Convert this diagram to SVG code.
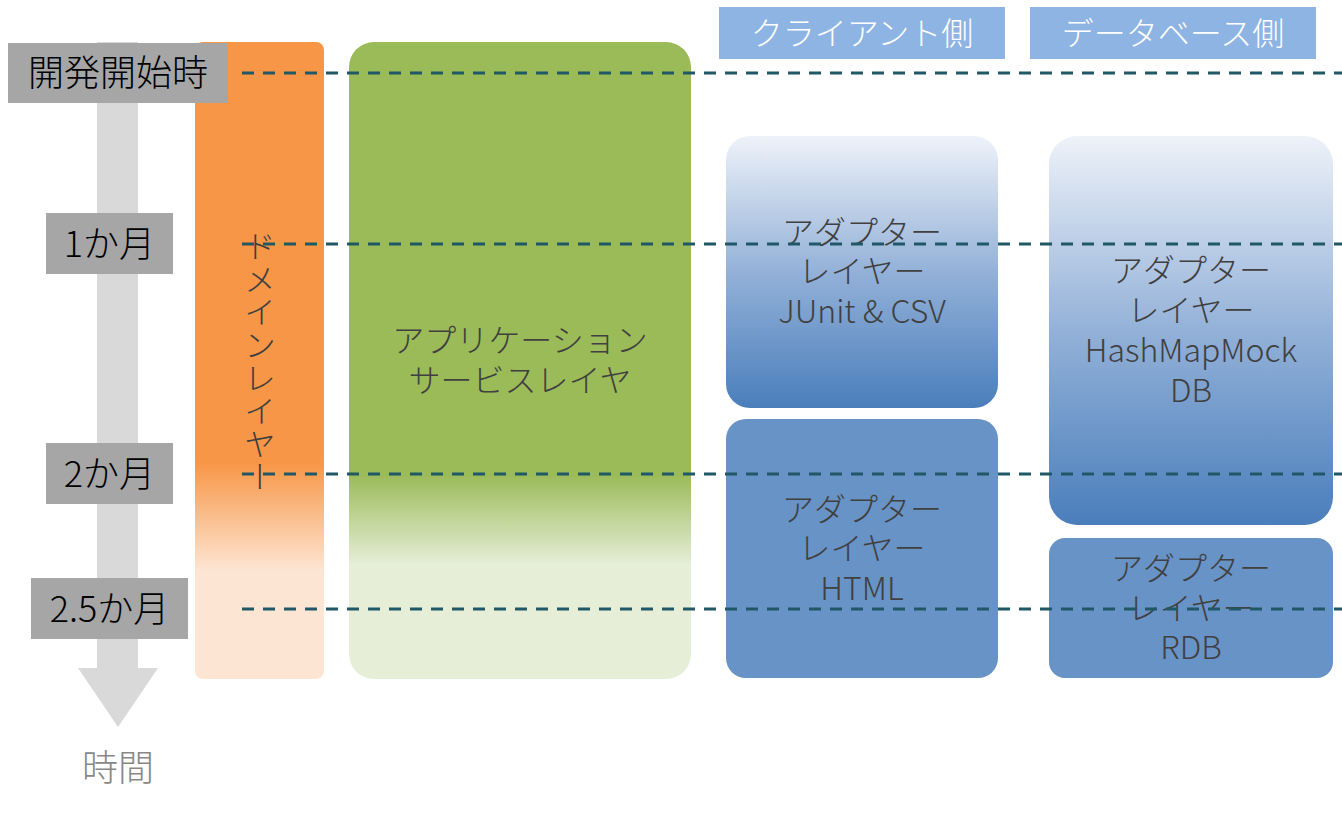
<svg xmlns="http://www.w3.org/2000/svg" width="1342" height="815" viewBox="0 0 1342 815">
<defs>
<linearGradient id="gOrange" x1="0" y1="0" x2="0" y2="1">
<stop offset="0" stop-color="#F79646"/><stop offset="0.66" stop-color="#F79646"/><stop offset="0.83" stop-color="#FDE5D3"/><stop offset="1" stop-color="#FDE5D3"/>
</linearGradient>
<linearGradient id="gGreen" x1="0" y1="0" x2="0" y2="1">
<stop offset="0" stop-color="#9BBB59"/><stop offset="0.68" stop-color="#9BBB59"/><stop offset="0.82" stop-color="#E6EED8"/><stop offset="1" stop-color="#E6EED8"/>
</linearGradient>
<linearGradient id="gBlue" x1="0" y1="0" x2="0" y2="1">
<stop offset="0" stop-color="#EEF2F9"/><stop offset="0.5" stop-color="#93B1D8"/><stop offset="1" stop-color="#4A7EBB"/>
</linearGradient>
<style>
text{font-family:"Noto Sans CJK JP","Noto Sans",sans-serif;font-weight:300;}
.lbl{fill:#A6A6A6;}
.lt{font-size:36px;fill:#000;text-anchor:middle;}
.hdr{fill:#8EB4E3;}
.ht{font-size:32px;fill:#fff;text-anchor:middle;}
.bt{font-size:32px;fill:#404040;text-anchor:middle;}
.flat{fill:#6893C6;}
.guide{stroke:#215867;stroke-width:3;stroke-dasharray:12 9;fill:none;}
</style>
</defs>
<rect width="1342" height="815" fill="#fff"/>
<g id="timeline">
<path d="M97 42 H138 V668 H158 L118 727 L78 668 H97 Z" fill="#D9D9D9"/>
<text x="118" y="781" style="font-size:36px;fill:#888;text-anchor:middle;">時間</text>
</g>
<g id="domain">
<rect x="195" y="42" width="129" height="637" rx="8" fill="url(#gOrange)"/>
<text x="260" y="230" style="font-size:32px;fill:#404040;writing-mode:vertical-rl;letter-spacing:1px;">ドメインレイヤー</text>
</g>
<g id="label-start"><rect class="lbl" x="8" y="43" width="220" height="60"/><text class="lt" x="118" y="86">開発開始時</text></g>
<g id="label-1m"><rect class="lbl" x="46" y="213" width="127" height="61"/><text class="lt" x="109.5" y="257">1か月</text></g>
<g id="label-2m"><rect class="lbl" x="46" y="443" width="127" height="61"/><text class="lt" x="109.5" y="487">2か月</text></g>
<g id="label-25m"><rect class="lbl" x="31" y="578" width="157" height="61"/><text class="lt" x="109.5" y="622">2.5か月</text></g>
<g id="application">
<rect x="349" y="42" width="342" height="637" rx="25" fill="url(#gGreen)"/>
<text class="bt" x="520" y="352">アプリケーション</text>
<text class="bt" x="520" y="392">サービスレイヤ</text>
</g>
<g id="hdr-client"><rect class="hdr" x="719" y="7" width="286" height="52"/><text class="ht" x="862" y="45">クライアント側</text></g>
<g id="hdr-db"><rect class="hdr" x="1030" y="7" width="286" height="52"/><text class="ht" x="1173" y="45">データベース側</text></g>
<g id="adapter-junit">
<rect x="726" y="136" width="272" height="272" rx="24" fill="url(#gBlue)"/>
<text class="bt" x="862" y="244">アダプター</text>
<text class="bt" x="862" y="283">レイヤー</text>
<text class="bt" x="862" y="323">JUnit &amp; CSV</text>
</g>
<g id="adapter-html">
<rect class="flat" x="726" y="419" width="272" height="259" rx="20"/>
<text class="bt" x="862" y="521">アダプター</text>
<text class="bt" x="862" y="560">レイヤー</text>
<text class="bt" x="862" y="600">HTML</text>
</g>
<g id="adapter-hashmap">
<rect x="1049" y="136" width="284" height="389" rx="28" fill="url(#gBlue)"/>
<text class="bt" x="1191" y="282">アダプター</text>
<text class="bt" x="1191" y="322">レイヤー</text>
<text class="bt" x="1191" y="362">HashMapMock</text>
<text class="bt" x="1191" y="402">DB</text>
</g>
<g id="adapter-rdb">
<rect class="flat" x="1049" y="538" width="284" height="140" rx="16"/>
<text class="bt" x="1191" y="580">アダプター</text>
<text class="bt" x="1191" y="620">レイヤー</text>
<text class="bt" x="1191" y="659">RDB</text>
</g>
<g id="connectors">
<line class="guide" x1="242" y1="73" x2="1342" y2="73"/>
<line class="guide" x1="242" y1="244" x2="1342" y2="244"/>
<line class="guide" x1="242" y1="474" x2="1342" y2="474"/>
<line class="guide" x1="242" y1="609" x2="1342" y2="609"/>
</g>
</svg>
